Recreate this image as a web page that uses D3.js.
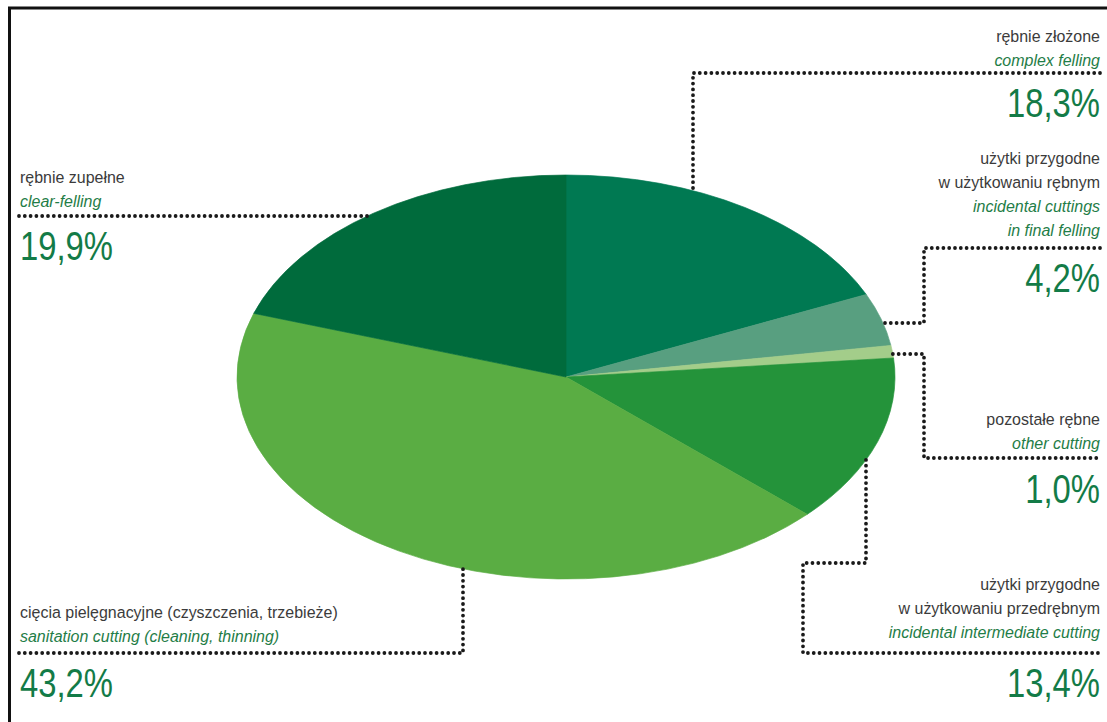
<html>
<head>
<script src="https://d3js.org/d3.v7.min.js"></script>
<style>
  body { margin: 0; background: #fff; }
  .lbl { font-family: "Liberation Sans", Arial, sans-serif; }
  .pl { fill: #3b3b3b; font-size: 17px; }
  .en { fill: #1f7d47; font-size: 17px; font-style: italic; }
  .pct { fill: #137b47; font-size: 41px; }
  .leader { fill: none; stroke: #1a1a1a; stroke-width: 3.8; stroke-dasharray: 0 5.8; stroke-linecap: round; stroke-linejoin: round; }
</style>
</head>
<body>
<svg id="chart" width="1107" height="722"></svg>
<script>
  // data, clockwise from 12 o'clock
  const keys = ["complex", "incFinal", "other", "incInter", "sanit", "clear"];
  const values = [18.3, 4.2, 1.0, 13.4, 43.2, 19.9];
  const colors = ["#007952", "#589f80", "#a3cd8a", "#24933a", "#5aad43", "#006b3c"];
  const labelsPl = [
    ["rębnie złożone"],
    ["użytki przygodne", "w użytkowaniu rębnym"],
    ["pozostałe rębne"],
    ["użytki przygodne", "w użytkowaniu przedrębnym"],
    ["cięcia pielęgnacyjne (czyszczenia, trzebieże)"],
    ["rębnie zupełne"]
  ];
  const labelsEn = [
    ["complex felling"],
    ["incidental cuttings", "in final felling"],
    ["other cutting"],
    ["incidental intermediate cutting"],
    ["sanitation cutting (cleaning, thinning)"],
    ["clear-felling"]
  ];
  const fmt = v => d3.format(".1f")(v).replace(".", ",") + "%";

  const svg = d3.select("#chart");
  const cx = 566, cy = 377, rx = 329, ry = 202;

  // frame
  svg.append("line").attr("x1", 9.5).attr("x2", 9.5).attr("y1", 7).attr("y2", 722)
     .attr("stroke", "#111").attr("stroke-width", 3);
  svg.append("line").attr("x1", 8).attr("x2", 1107).attr("y1", 8).attr("y2", 8)
     .attr("stroke", "#111").attr("stroke-width", 3);

  // pie squashed into an ellipse
  const pie = d3.pie().sort(null).value(d => d)(values);
  const arc = d3.arc().innerRadius(0).outerRadius(ry);
  const g = svg.append("g")
     .attr("transform", `translate(${cx},${cy}) scale(${rx / ry},1)`);
  g.selectAll("path").data(pie).join("path")
     .attr("d", arc)
     .attr("fill", (d, i) => colors[i])
     .attr("stroke", (d, i) => colors[i])
     .attr("stroke-width", 0.5);

  // point on the ellipse edge, given x (top/bottom) or y (left/right)
  const edgeY = (x, side) => cy + side * ry * Math.sqrt(1 - ((x - cx) / rx) ** 2);
  const edgeX = (y, side) => cx + side * rx * Math.sqrt(1 - ((y - cy) / ry) ** 2);

  // leader layout (label anchor + polyline from the label rule back to the ellipse)
  const layout = {
    complex:  { x: 1100, anchor: "end", plY: 42, pctY: 117,
                line: [[1100, 73], [693, 73], [693, edgeY(693, -1)]] },
    incFinal: { x: 1100, anchor: "end", plY: 164, pctY: 292,
                line: [[1100, 248], [924, 248], [924, 323], [edgeX(323, 1), 323]] },
    other:    { x: 1100, anchor: "end", plY: 425, pctY: 503,
                line: [[edgeX(354, 1), 354], [924, 354], [924, 458], [1100, 458]] },
    incInter: { x: 1100, anchor: "end", plY: 590, pctY: 697,
                line: [[866, edgeY(866, 1)], [866, 563], [803, 563], [803, 653], [1100, 653]] },
    sanit:    { x: 20, anchor: "start", plY: 618, pctY: 697,
                line: [[19, 653], [463, 653], [463, edgeY(463, 1)]] },
    clear:    { x: 20, anchor: "start", plY: 183, pctY: 260,
                line: [[19, 216], [edgeX(216, -1), 216]] }
  };

  const lineGen = d3.line();
  const lh = 24;
  keys.forEach((k, i) => {
    const L = layout[k];
    svg.append("path").attr("class", "leader").attr("d", lineGen(L.line));
    const t = svg.append("g").attr("class", "lbl").attr("text-anchor", L.anchor)
       .attr("transform", `translate(${L.x},0)`);
    let y = L.plY;
    labelsPl[i].forEach(s => {
      t.append("text").attr("class", "pl")
       .attr("transform", `translate(0,${y}) scale(0.94,1)`).text(s);
      y += lh;
    });
    labelsEn[i].forEach(s => {
      t.append("text").attr("class", "en")
       .attr("transform", `translate(0,${y}) scale(0.94,1)`).text(s);
      y += lh;
    });
    // narrow, DIN-like figures
    t.append("text").attr("class", "pct")
       .attr("transform", `translate(0,${L.pctY}) scale(0.8,1)`)
       .text(fmt(values[i]));
  });
</script>
</body>
</html>
